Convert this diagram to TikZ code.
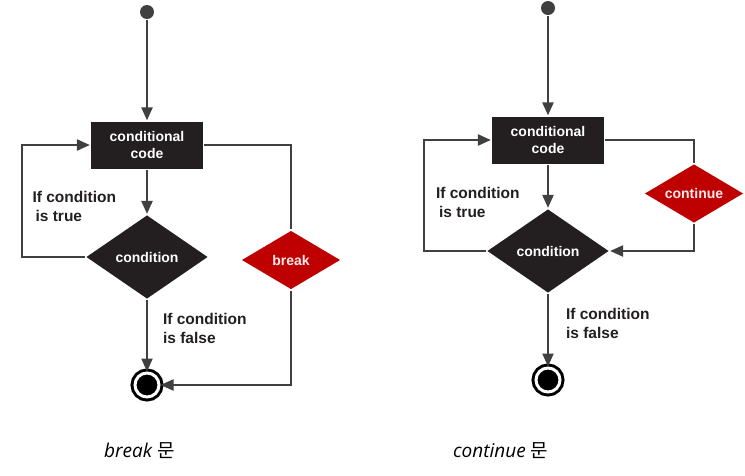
\documentclass[tikz,border=0pt]{standalone}
\usepackage{fontspec}
\setmainfont{Liberation Sans}
\newfontfamily\capfont{Open Sans}
\newfontfamily\cjk{Noto Sans CJK KR}
\usetikzlibrary{shapes.geometric,arrows.meta}
\definecolor{boxgray}{HTML}{231F20}
\definecolor{linegray}{HTML}{404040}
\definecolor{stopred}{HTML}{BF0000}
\begin{document}
\begin{tikzpicture}
  [x=1pt,y=-1pt,line width=2.2pt,draw=linegray,
   every node/.style={font=\bfseries\fontsize{14}{17}\selectfont},
   codebox/.style={rectangle,fill=boxgray,text=white,align=center,minimum width=112pt,minimum height=47pt,inner sep=0pt},
   testbox/.style={diamond,fill=boxgray,text=white,aspect=1.45,minimum width=122pt,minimum height=84pt,inner sep=0pt},
   jumpbox/.style={diamond,fill=stopred,text=white!92!red,aspect=1.66,minimum width=99pt,minimum height=59pt,inner sep=0pt},
   startdot/.style={circle,fill=linegray,minimum size=14pt,inner sep=0pt},
   enddot/.style={circle,draw=black,line width=3pt,fill=black,double=white,double distance=3pt,minimum size=24pt,inner sep=0pt},
   note/.style={align=left,anchor=north west,inner sep=0pt,font=\bfseries\fontsize{15.5}{19}\selectfont,text=boxgray},
   caption/.style={anchor=base west,inner sep=0pt,font=\capfont\itshape\fontsize{19}{22}\selectfont},
   flow/.style={-{Triangle[length=13pt,width=11pt]}}]
  \useasboundingbox (0,0) rectangle (745,475);

  % break
  \node[startdot] (s1) at (147,12) {};
  \node[codebox]  (c1) at (147,145) {conditional\\code};
  \node[testbox]  (d1) at (147,257) {condition};
  \node[jumpbox]  (b1) at (291,260) {break};
  \node[enddot]   (e1) at (147,385) {};
  \node[note] (t1) at (31.5,190.5) {If condition\\\hspace{3pt}is true};
  \node[note] (f1) at (162,312.5) {If condition\\is false};
  \node[caption] (g1) at (103,457) {break {\cjk 문}};

  % continue
  \node[startdot] (s2) at (548,8) {};
  \node[codebox]  (c2) at (548,140) {conditional\\code};
  \node[testbox]  (d2) at (548,251) {condition};
  \node[jumpbox]  (k2) at (694,193.5) {continue};
  \node[enddot]   (e2) at (548,380) {};
  \node[note] (t2) at (435,186) {If condition\\\hspace{3pt}is true};
  \node[note] (f2) at (565,307.5) {If condition\\is false};
  \node[caption] (g2) at (452,457) {continue {\cjk 문}};

  \foreach \from/\to in {s1/c1,c1/d1,d1/e1,s2/c2,c2/d2,d2/e2}
    \draw[flow] (\from) -- (\to);
  \draw[flow] (d1.west) -- ++(-63,0) |- (c1.west);
  \draw[flow] (d2.west) -- ++(-62,0) |- (c2.west);
  \draw (c1.east) -| (b1.north);
  \draw[flow] (b1.south) |- (e1.east);
  \draw (c2.east) -| (k2.north);
  \draw[flow] (k2.south) |- (d2.east);
\end{tikzpicture}
\end{document}
